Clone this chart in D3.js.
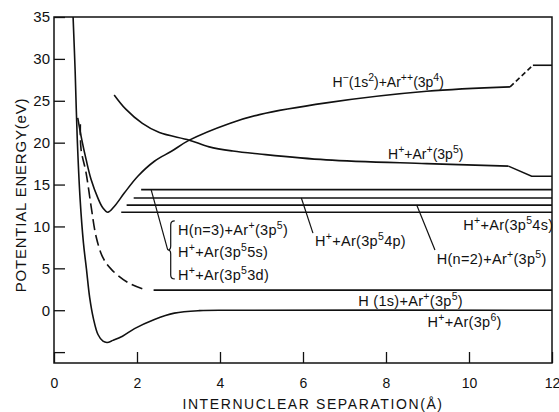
<!DOCTYPE html>
<html>
<head>
<meta charset="utf-8">
<script src="https://cdn.jsdelivr.net/npm/d3@7"></script>
<style>
  body { margin: 0; background: #fff; }
  svg text { font-family: "Liberation Sans", Arial, sans-serif; fill: #111; }
</style>
</head>
<body>
<svg id="chart" width="559" height="412"></svg>
<script>
// tick values
const xTicks = [0, 2, 4, 6, 8, 10, 12];
const yTicks = [-5, 0, 5, 10, 15, 20, 25, 30, 35];

// H+ + Ar(3p6) ground state
const groundR = [0.46, 0.51, 0.56, 0.63, 0.71, 0.78, 0.86, 0.95, 1.06, 1.18, 1.28, 1.42, 1.65, 1.94, 2.42, 2.9, 3.5, 4.3, 12];
const groundE = [35, 28.5, 20.5, 13.2, 8.0, 5.0, 1.5, -1.0, -2.9, -3.7, -3.85, -3.6, -3.1, -2.2, -1.1, -0.35, -0.05, 0.0, 0.0];

// H(1s) + Ar+(3p5): dashed near the wall, flat level after
const h1sR = [0.635, 0.652, 0.773, 0.894, 1.014, 1.176, 1.377, 1.78, 2.22];
const h1sE = [22.2, 19.2, 16.4, 12.4, 8.8, 6.3, 4.9, 3.3, 2.4];
const h1sLevel = [[2.4, 2.4], [12, 2.4]];

// H-(1s2) + Ar++(3p4)
const hMinusR = [0.572, 0.669, 0.773, 0.894, 1.056, 1.176, 1.297, 1.457, 1.698, 2.02, 2.42, 2.83, 3.26, 4.23, 4.95, 6.56, 8.98, 10.99];
const hMinusE = [22.96, 20.37, 18.0, 15.6, 13.41, 12.22, 11.7, 12.41, 14.01, 15.99, 17.78, 18.97, 20.3, 22.3, 23.35, 24.75, 26.13, 26.66];
const hMinusJump = [[10.99, 26.66], [11.54, 29.24]];
const hMinusTail = [[11.54, 29.24], [12, 29.24]];

// H+ + Ar+(3p5)
const hPlusR = [1.45, 1.73, 2.13, 2.54, 3.26, 3.74, 4.31, 4.95, 6.56, 8.98, 10.95];
const hPlusE = [25.7, 24.0, 22.3, 21.2, 20.3, 19.5, 19.0, 18.65, 17.95, 17.5, 17.2];
const hPlusTail = [[10.95, 17.2], [11.51, 16.0], [12, 16.0]];

// excited asymptotes (flat lines)
const levelE = [14.4, 13.4, 12.55, 11.7];
const levelStart = [2.10, 1.92, 1.75, 1.62];

// state labels: [r, E, markup]
const labels = [
    [6.71, 26.7, "H^{−}(1s^{2})+Ar^{++}(3p^{4})"],
    [8.05, 18.1, "H^{+}+Ar^{+}(3p^{5})"],
    [2.99, 9.0, "H(n=3)+Ar^{+}(3p^{5})"],
    [2.99, 6.3, "H^{+}+Ar(3p^{5}5s)"],
    [2.99, 3.6, "H^{+}+Ar(3p^{5}3d)"],
    [6.29, 7.7, "H^{+}+Ar(3p^{5}4p)"],
    [9.22, 5.5, "H(n=2)+Ar^{+}(3p^{5})"],
    [9.86, 9.6, "H^{+}+Ar(3p^{5}4s)"],
    [7.33, 0.5, "H (1s)+Ar^{+}(3p^{5})"],
    [9.0, -2.0, "H^{+}+Ar(3p^{6})"]
];

// pointer lines from labels up to their levels: [r0, E0, r1, E1]
const pointers = [
    [2.34, 14.4, 2.74, 7.2],
    [5.96, 13.4, 6.24, 9.2],
    [8.74, 12.55, 9.18, 7.2]
];

const svg = d3.select("#chart");
const margin = {left: 54, right: 552, top: 17, bottom: 363};

const x = d3.scaleLinear().domain([0, 12]).range([margin.left, margin.right]);
const y = d3.scaleLinear().domain([-6.3, 35]).range([margin.bottom, margin.top]);

const zip = (rs, es) => rs.map((r, i) => [r, es[i]]);

const smooth = d3.line()
    .x(d => x(d[0]))
    .y(d => y(d[1]))
    .curve(d3.curveCatmullRom.alpha(0.5));

const straight = d3.line()
    .x(d => x(d[0]))
    .y(d => y(d[1]));

// axes, ticks pointing inward
svg.append("g")
    .attr("transform", `translate(0,${margin.bottom})`)
    .call(d3.axisBottom(x).tickValues(xTicks).tickSize(-11).tickPadding(15))
    .call(g => g.select(".domain").remove())
    .call(g => g.selectAll("line").attr("stroke", "#111").attr("stroke-width", 1.3))
    .call(g => g.selectAll("text").attr("font-size", 14).attr("fill", "#111")
        .style("font-family", "Liberation Sans, Arial, sans-serif"));

svg.append("g")
    .attr("transform", `translate(${margin.left},0)`)
    .call(d3.axisLeft(y).tickValues(yTicks).tickSize(-11).tickPadding(4)
        .tickFormat(d => d < 0 ? "" : d))
    .call(g => g.select(".domain").remove())
    .call(g => g.selectAll("line").attr("stroke", "#111").attr("stroke-width", 1.3))
    .call(g => g.selectAll("text").attr("font-size", 15).attr("fill", "#111")
        .style("font-family", "Liberation Sans, Arial, sans-serif"));

svg.append("rect")
    .attr("x", margin.left).attr("y", margin.top)
    .attr("width", margin.right - margin.left).attr("height", margin.bottom - margin.top)
    .attr("fill", "none").attr("stroke", "#111").attr("stroke-width", 1.5);

svg.append("text")
    .attr("x", 313).attr("y", 409)
    .attr("text-anchor", "middle")
    .attr("font-size", 14)
    .attr("letter-spacing", 1.6)
    .text("INTERNUCLEAR SEPARATION(Å)");

svg.append("text")
    .attr("transform", "translate(26,195) rotate(-90)")
    .attr("text-anchor", "middle")
    .attr("font-size", 15)
    .attr("letter-spacing", 0.8)
    .text("POTENTIAL ENERGY(eV)");

// curves
const curves = svg.append("g")
    .attr("fill", "none")
    .attr("stroke", "#111")
    .attr("stroke-width", 1.6);

curves.append("path").attr("d", smooth(zip(groundR, groundE)));
curves.append("path").attr("d", smooth(zip(h1sR, h1sE))).attr("stroke-dasharray", "11,5");
curves.append("path").attr("d", straight(h1sLevel));
curves.append("path").attr("d", smooth(zip(hMinusR, hMinusE)));
curves.append("path").attr("d", straight(hMinusJump)).attr("stroke-dasharray", "5,3");
curves.append("path").attr("d", straight(hMinusTail));
curves.append("path").attr("d", smooth(zip(hPlusR, hPlusE)));
curves.append("path").attr("d", straight(hPlusTail));

curves.selectAll(".level")
    .data(levelE)
    .join("line")
    .attr("class", "level")
    .attr("x1", (d, i) => x(levelStart[i]))
    .attr("x2", x(12))
    .attr("y1", d => y(d))
    .attr("y2", d => y(d));

curves.selectAll(".pointer")
    .data(pointers)
    .join("line")
    .attr("class", "pointer")
    .attr("stroke-width", 1.2)
    .attr("x1", d => x(d[0])).attr("y1", d => y(d[1]))
    .attr("x2", d => x(d[2])).attr("y2", d => y(d[3]));

// curly brace grouping the three n=3 states
{
    const bx = x(2.74), by = y(7.2);
    curves.append("path")
        .attr("stroke-width", 1.2)
        .attr("d", `M${bx + 7},${by - 29} q-4,0 -4,4 v21 q0,4 -3,4 q3,0 3,4 v21 q0,4 4,4`);
}

// labels with superscripts written as ^{...}
function label(g, markup) {
    const parts = markup.split(/(\^\{[^}]*\})/).filter(s => s.length);
    let raised = false;
    parts.forEach(p => {
        const sup = p.startsWith("^{");
        const t = g.append("tspan").text(sup ? p.slice(2, -1) : p);
        if (sup) {
            t.attr("font-size", 10.5).attr("dy", raised ? 0 : -6);
            raised = true;
        } else {
            if (raised) t.attr("dy", 6);
            raised = false;
        }
    });
}

// the two upper labels are lettered a bit tighter than the rest
svg.append("g")
    .selectAll("text")
    .data(labels)
    .join("text")
    .attr("x", d => x(d[0]))
    .attr("y", d => y(d[1]))
    .attr("font-size", (d, i) => i < 2 ? 14 : 14.5)
    .attr("letter-spacing", (d, i) => i < 2 ? 0 : 0.3)
    .each(function(d) { label(d3.select(this), d[2]); });
</script>
</body>
</html>
